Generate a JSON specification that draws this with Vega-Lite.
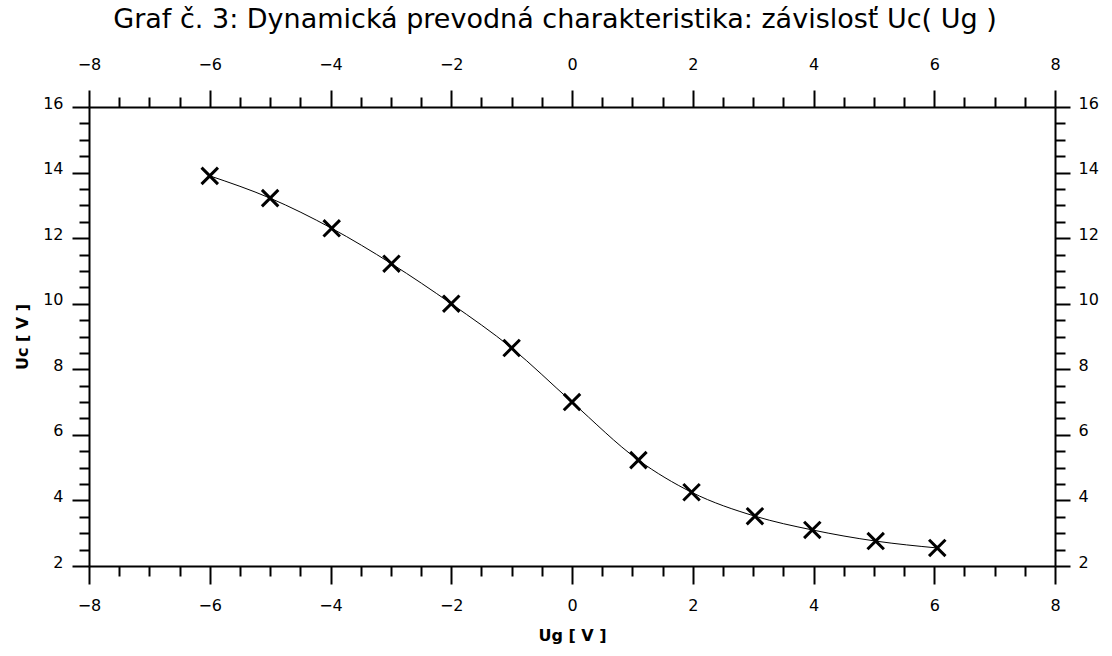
{
  "$schema": "https://vega.github.io/schema/vega-lite/v6.json",
  "autosize": {"type": "none"},
  "padding": {"left": 89, "top": 107, "right": 57, "bottom": 90},
  "width": 966,
  "height": 459,
  "background": "white",
  "title": {
    "text": "Graf č. 3: Dynamická prevodná charakteristika: závislosť Uc( Ug )",
    "font": "DejaVu Sans",
    "fontSize": 27,
    "fontWeight": "normal",
    "color": "black",
    "anchor": "middle",
    "offset": 22,
    "dx": -17
  },
  "config": {
    "view": {"stroke": null}
  },
  "data": {
    "values": [
      {"Ug": -6.0, "Uc": 13.9},
      {"Ug": -5.0, "Uc": 13.22},
      {"Ug": -3.98, "Uc": 12.3},
      {"Ug": -2.99, "Uc": 11.22},
      {"Ug": -2.0, "Uc": 10.0},
      {"Ug": -1.0, "Uc": 8.65},
      {"Ug": 0.0, "Uc": 7.0},
      {"Ug": 1.1, "Uc": 5.23},
      {"Ug": 1.98, "Uc": 4.25},
      {"Ug": 3.03, "Uc": 3.52},
      {"Ug": 3.98, "Uc": 3.1},
      {"Ug": 5.03, "Uc": 2.76},
      {"Ug": 6.05, "Uc": 2.55}
    ]
  },
  "resolve": {"axis": {"x": "independent", "y": "independent"}},
  "layer": [
    {
      "mark": {"type": "line", "interpolate": "monotone", "color": "black", "strokeWidth": 1},
      "encoding": {
        "x": {
          "field": "Ug", "type": "quantitative",
          "scale": {"domain": [-8, 8], "nice": false, "zero": false},
          "axis": {
            "orient": "bottom",
            "title": "Ug [ V ]",
            "titleFont": "DejaVu Sans", "titleFontSize": 16, "titleFontWeight": "bold", "titleColor": "black",
            "titlePadding": 14,
            "domainColor": "black", "domainWidth": 2, "tickColor": "black", "tickWidth": 2, "grid": false,
            "labelFont": "DejaVu Sans", "labelFontSize": 16, "labelColor": "black", "labelOverlap": false, "labelFlush": false,
            "values": [-8,-7.5,-7,-6.5,-6,-5.5,-5,-4.5,-4,-3.5,-3,-2.5,-2,-1.5,-1,-0.5,0,0.5,1,1.5,2,2.5,3,3.5,4,4.5,5,5.5,6,6.5,7,7.5,8],
            "tickSize": {"condition": {"test": "datum.value % 2 === 0", "value": 18}, "value": 10},
            "labelExpr": "datum.value % 2 === 0 ? format(datum.value, 'd') : ''",
            "labelPadding": 13
          }
        },
        "y": {
          "field": "Uc", "type": "quantitative",
          "scale": {"domain": [2, 16], "nice": false, "zero": false},
          "axis": {
            "orient": "left",
            "title": "Uc [ V ]",
            "titleFont": "DejaVu Sans", "titleFontSize": 16, "titleFontWeight": "bold", "titleColor": "black",
            "titlePadding": 12,
            "domainColor": "black", "domainWidth": 2, "tickColor": "black", "tickWidth": 2, "grid": false,
            "labelFont": "DejaVu Sans", "labelFontSize": 16, "labelColor": "black", "labelOverlap": false, "labelFlush": false,
            "values": [2,2.5,3,3.5,4,4.5,5,5.5,6,6.5,7,7.5,8,8.5,9,9.5,10,10.5,11,11.5,12,12.5,13,13.5,14,14.5,15,15.5,16],
            "tickSize": {"condition": {"test": "datum.value % 2 === 0", "value": 17}, "value": 10},
            "labelExpr": "datum.value % 2 === 0 ? format(datum.value, 'd') : ''",
            "labelPadding": 9,
            "labelOffset": -4
          }
        }
      }
    },
    {
      "mark": {"type": "point", "shape": "M-1,-1L1,1M-1,1L1,-1", "filled": false, "stroke": "black", "strokeWidth": 3, "size": 270, "opacity": 1},
      "encoding": {
        "x": {
          "field": "Ug", "type": "quantitative",
          "scale": {"domain": [-8, 8], "nice": false, "zero": false},
          "axis": {
            "orient": "top",
            "title": null,
            "domainColor": "black", "domainWidth": 2, "tickColor": "black", "tickWidth": 2, "grid": false,
            "labelFont": "DejaVu Sans", "labelFontSize": 16, "labelColor": "black", "labelOverlap": false, "labelFlush": false,
            "values": [-8,-7.5,-7,-6.5,-6,-5.5,-5,-4.5,-4,-3.5,-3,-2.5,-2,-1.5,-1,-0.5,0,0.5,1,1.5,2,2.5,3,3.5,4,4.5,5,5.5,6,6.5,7,7.5,8],
            "tickSize": {"condition": {"test": "datum.value % 2 === 0", "value": 17}, "value": 10},
            "labelExpr": "datum.value % 2 === 0 ? format(datum.value, 'd') : ''",
            "labelPadding": 18
          }
        },
        "y": {
          "field": "Uc", "type": "quantitative",
          "scale": {"domain": [2, 16], "nice": false, "zero": false},
          "axis": {
            "orient": "right",
            "title": null,
            "domainColor": "black", "domainWidth": 2, "tickColor": "black", "tickWidth": 2, "grid": false,
            "labelFont": "DejaVu Sans", "labelFontSize": 16, "labelColor": "black", "labelOverlap": false, "labelFlush": false,
            "values": [2,2.5,3,3.5,4,4.5,5,5.5,6,6.5,7,7.5,8,8.5,9,9.5,10,10.5,11,11.5,12,12.5,13,13.5,14,14.5,15,15.5,16],
            "tickSize": {"condition": {"test": "datum.value % 2 === 0", "value": 15}, "value": 10},
            "labelExpr": "datum.value % 2 === 0 ? format(datum.value, 'd') : ''",
            "labelPadding": 8,
            "labelOffset": -4
          }
        }
      }
    }
  ]
}
